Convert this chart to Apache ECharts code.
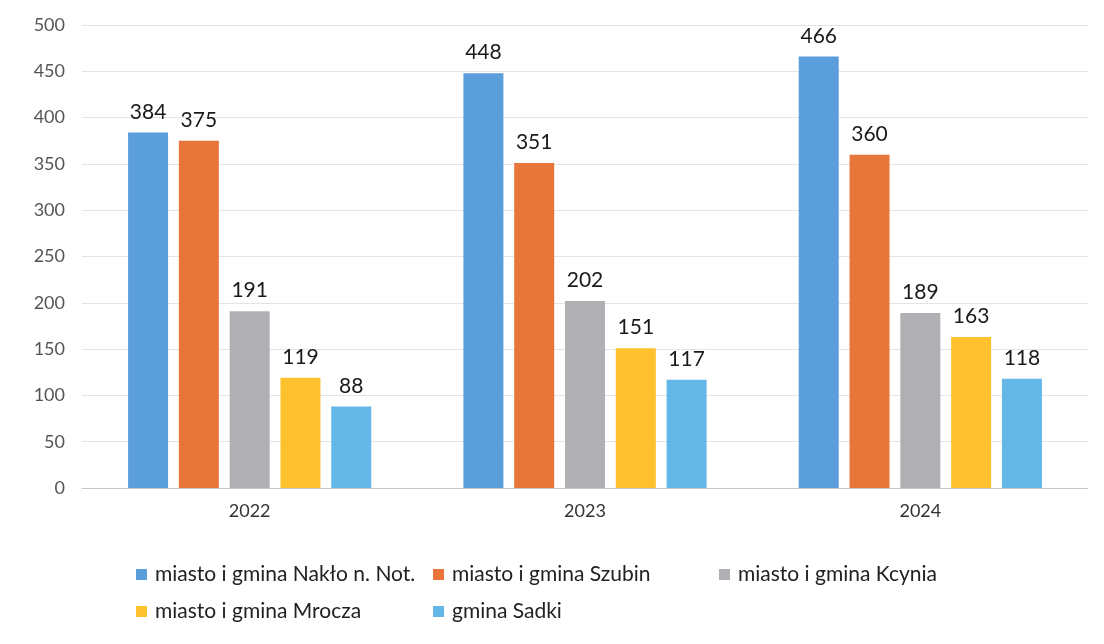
<!DOCTYPE html>
<html><head><meta charset="utf-8">
<script src="https://cdn.jsdelivr.net/npm/echarts@6/dist/echarts.min.js"></script>
<style>html,body{margin:0;padding:0;background:#fff}#c{width:1104px;height:644px}</style>
</head><body><div id="c"></div>
<script>
const categories = ['2022', '2023', '2024'];
const seriesNames = ['miasto i gmina Nakło n. Not.', 'miasto i gmina Szubin', 'miasto i gmina Kcynia', 'miasto i gmina Mrocza', 'gmina Sadki'];
const naklo = [384, 448, 466];
const szubin = [375, 351, 360];
const kcynia = [191, 202, 189];
const mrocza = [119, 151, 163];
const sadki = [88, 117, 118];
const yTicks = [0, 50, 100, 150, 200, 250, 300, 350, 400, 450, 500];

const values = [naklo, szubin, kcynia, mrocza, sadki];
const colors = ['#5a9edb', '#e8763a', '#b0b0b4', '#ffc12d', '#63b8e8'];
const chart = echarts.init(document.getElementById('c'));
const legendText = {fontFamily: 'Lato', fontSize: 21, color: '#222', padding: [0, 0, 0, 3]};
const mkLegend = (names, left, top) => ({
  data: names, left: left, top: top, orient: 'horizontal', itemWidth: 11, itemHeight: 11,
  itemGap: 0, icon: 'rect', textStyle: legendText, selectedMode: false
});
chart.setOption({
  animation: false,
  grid: {left: 82, right: 16, top: 25, bottom: 156},
  legend: [
    mkLegend([seriesNames[0]], 131, 559),
    mkLegend([seriesNames[1]], 428, 559),
    mkLegend([seriesNames[2]], 714, 559),
    mkLegend([seriesNames[3]], 131, 596),
    mkLegend([seriesNames[4]], 428, 596)
  ],
  xAxis: {
    type: 'category', data: categories,
    axisLine: {lineStyle: {color: '#c8c8c8'}}, axisTick: {show: false},
    axisLabel: {fontFamily: 'Lato', fontSize: 18, color: '#333', margin: 14}
  },
  yAxis: {
    type: 'value', min: yTicks[0], max: yTicks[yTicks.length - 1], interval: 50,
    axisLine: {show: false}, axisTick: {show: false},
    axisLabel: {fontFamily: 'Lato', fontSize: 18, color: '#555', margin: 17},
    splitLine: {lineStyle: {color: '#e4e4e4'}}
  },
  series: seriesNames.map((n, i) => ({
    name: n, type: 'bar', data: values[i], barWidth: 40, barGap: '27%', barCategoryGap: '27%',
    itemStyle: {color: colors[i]},
    label: {show: true, position: 'top', distance: 10, fontFamily: 'Lato', fontSize: 21, color: '#1a1a1a'}
  }))
});
</script></body></html>
